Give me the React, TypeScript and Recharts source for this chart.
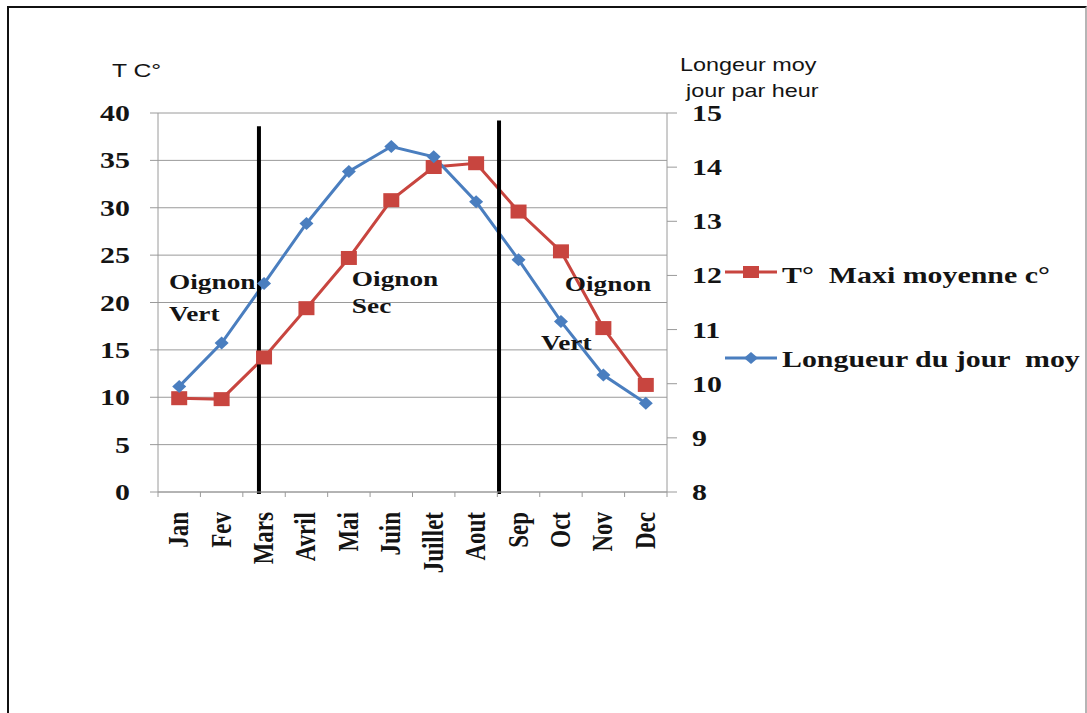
import React from 'react';
import {
  LineChart,
  Line,
  XAxis,
  YAxis,
  CartesianGrid,
  Legend,
  ReferenceLine,
  ReferenceDot,
  Label,
} from 'recharts';

// Monthly climate values
const months = ['Jan', 'Fev', 'Mars', 'Avril', 'Mai', 'Juin', 'Juillet', 'Aout', 'Sep', 'Oct', 'Nov', 'Dec'];
const tempMax = [9.9, 9.8, 14.2, 19.4, 24.7, 30.8, 34.3, 34.7, 29.6, 25.4, 17.3, 11.3];
const dayLength = [9.95, 10.75, 11.85, 12.96, 13.92, 14.38, 14.19, 13.36, 12.29, 11.15, 10.16, 9.64];

const tempTicks = [0, 5, 10, 15, 20, 25, 30, 35, 40];
const dayTicks = [8, 9, 10, 11, 12, 13, 14, 15];

const seriesOrder = ['temp', 'day'];
const seriesNames = ['T°  Maxi moyenne c°', 'Longueur du jour  moy'];

// Crop season boundaries, in month units along the year (0 = start of Jan)
const seasonBounds = [2.38, 8.04];
const seasonTops = [38.6, 39.2];

// Crop notes: month position and temperature level of each line of text
const noteTexts = ['Oignon', 'Vert', 'Oignon', 'Sec', 'Oignon', 'Vert'];
const noteMonthPos = [0.26, 0.26, 4.57, 4.57, 9.59, 9.03];
const noteLevel = [21.4, 18.0, 21.7, 18.9, 21.2, 15.0];

const rows = months.map((m, i) => ({ month: m, pos: i + 0.5, temp: tempMax[i], day: dayLength[i] }));

const RED = '#C8453F';
const BLUE = '#4A7EBF';
const GRID = '#9a9a9a';
const INK = '#141414';
const SERIF = '"Liberation Serif", "Times New Roman", serif';
const SANS = '"Liberation Sans", Arial, sans-serif';
const SX = 1.3;

type StretchProps = {
  x: number;
  y: number;
  anchor?: 'start' | 'middle' | 'end';
  size: number;
  sans?: boolean;
  bold?: boolean;
  rotate?: boolean;
  children: React.ReactNode;
};

function StretchText({ x, y, anchor = 'start', size, sans = false, bold = true, rotate = false, children }: StretchProps) {
  const t = `translate(${x},${y}) scale(${SX},1)` + (rotate ? ' rotate(-90)' : '');
  return (
    <text
      transform={t}
      x={0}
      y={0}
      textAnchor={anchor}
      fontSize={size}
      fontFamily={sans ? SANS : SERIF}
      fontWeight={bold ? 700 : 400}
      fill={INK}
      style={{ whiteSpace: 'pre' }}
    >
      {children}
    </text>
  );
}

const leftTick = (p: any) => (
  <StretchText x={p.x} y={p.y + 8} anchor="end" size={23}>
    {p.payload.value}
  </StretchText>
);

const rightTick = (p: any) => (
  <StretchText x={p.x} y={p.y + 8} anchor="start" size={23}>
    {p.payload.value}
  </StretchText>
);

const monthTick = (p: any) => {
  const count = p.visibleTicksCount || months.length;
  const bw = (p.width || 509) / count;
  const left = p.x - bw / 2;
  return (
    <g>
      <line x1={left} y1={p.y} x2={left} y2={p.y + 5} stroke={GRID} strokeWidth={1} />
      {p.index === count - 1 && (
        <line x1={p.x + bw / 2} y1={p.y} x2={p.x + bw / 2} y2={p.y + 5} stroke={GRID} strokeWidth={1} />
      )}
      <StretchText x={p.x + 9} y={p.y + 20} anchor="end" size={23} rotate>
        {p.payload.value}
      </StretchText>
    </g>
  );
};

const squareDot = (p: any) => {
  if (p.cx == null || p.cy == null) return <g key={`sq-${p.index}`} />;
  return <rect key={`sq-${p.index}`} x={p.cx - 8} y={p.cy - 7} width={16} height={14} fill={RED} />;
};

const diamondDot = (p: any) => {
  if (p.cx == null || p.cy == null) return <g key={`dm-${p.index}`} />;
  const { cx, cy } = p;
  return (
    <polygon
      key={`dm-${p.index}`}
      points={`${cx},${cy - 6.5} ${cx + 7},${cy} ${cx},${cy + 6.5} ${cx - 7},${cy}`}
      fill={BLUE}
    />
  );
};

function LegendBox({ payload }: { payload?: any[] }) {
  const items = payload || [];
  return (
    <svg width={369} height={130} style={{ overflow: 'visible' }}>
      {seriesOrder.map((key, i) => {
        const entry = items.find((e) => e.dataKey === key);
        if (!entry) return null;
        const ly = i === 0 ? 22 : 108;
        const ty = i === 0 ? 33 : 117;
        const c = entry.color;
        return (
          <g key={key}>
            <line x1={7} y1={ly} x2={59} y2={ly} stroke={c} strokeWidth={3} />
            {i === 0 ? (
              <rect x={25} y={ly - 6} width={16} height={12} fill={c} />
            ) : (
              <polygon points={`33,${ly - 6} 40,${ly} 33,${ly + 6} 26,${ly}`} fill={c} />
            )}
            <StretchText x={64} y={ty} size={23}>
              {entry.value}
            </StretchText>
          </g>
        );
      })}
    </svg>
  );
}

export default function App() {
  return (
    <div style={{ position: 'fixed', left: 0, top: 0, width: 1087, height: 713, overflow: 'hidden', background: '#fff' }}>
      <div style={{ position: 'absolute', left: 0, top: 0 }}>
        <LineChart width={1087} height={713} data={rows} margin={{ top: 113, right: 340, bottom: 121, left: 0 }}>
          <CartesianGrid yAxisId="t" vertical={false} stroke={GRID} strokeWidth={1} />
          <XAxis
            dataKey="month"
            scale="band"
            height={100}
            axisLine={{ stroke: GRID, strokeWidth: 1 }}
            tickLine={false}
            tickSize={0}
            tickMargin={0}
            interval={0}
            tick={monthTick}
          />
          <XAxis xAxisId="pos" dataKey="pos" type="number" domain={[0, 12]} allowDataOverflow hide />
          <YAxis
            yAxisId="t"
            width={158}
            domain={[0, 40]}
            ticks={tempTicks}
            interval={0}
            axisLine={{ stroke: GRID, strokeWidth: 1 }}
            tickLine={{ stroke: GRID, strokeWidth: 1 }}
            tickSize={8}
            tickMargin={20}
            tick={leftTick}
          >
            <Label
              content={(p: any) => {
                const vb = p.viewBox || { x: 0, y: 113 };
                return (
                  <StretchText x={vb.x + 112} y={vb.y - 36} size={19} sans bold={false}>
                    T C°
                  </StretchText>
                );
              }}
            />
          </YAxis>
          <YAxis
            yAxisId="day"
            orientation="right"
            width={80}
            domain={[8, 15]}
            ticks={dayTicks}
            interval={0}
            axisLine={{ stroke: GRID, strokeWidth: 1 }}
            tickLine={{ stroke: GRID, strokeWidth: 1 }}
            tickSize={10}
            tickMargin={15}
            tick={rightTick}
          >
            <Label
              content={(p: any) => {
                const vb = p.viewBox || { x: 667, y: 113 };
                return (
                  <g>
                    <StretchText x={vb.x + 13} y={vb.y - 42} size={18} sans bold={false}>
                      Longeur moy
                    </StretchText>
                    <StretchText x={vb.x + 19} y={vb.y - 16} size={18} sans bold={false}>
                      jour par heur
                    </StretchText>
                  </g>
                );
              }}
            />
          </YAxis>
          <Legend
            layout="vertical"
            align="center"
            verticalAlign="middle"
            wrapperStyle={{ left: 718, top: 250, width: 369, height: 130 }}
            content={(p: any) => <LegendBox payload={p.payload} />}
          />
          <Line
            yAxisId="t"
            dataKey="temp"
            name={seriesNames[0]}
            stroke={RED}
            strokeWidth={3}
            dot={squareDot}
            activeDot={false}
            isAnimationActive={false}
          />
          <Line
            yAxisId="day"
            dataKey="day"
            name={seriesNames[1]}
            stroke={BLUE}
            strokeWidth={3}
            dot={diamondDot}
            activeDot={false}
            isAnimationActive={false}
          />
          {noteTexts.map((txt, i) => (
            <ReferenceDot
              key={`note-${i}`}
              xAxisId="pos"
              yAxisId="t"
              x={noteMonthPos[i]}
              y={noteLevel[i]}
              r={0}
              shape={(p: any) => (
                <StretchText x={p.cx} y={p.cy} size={21}>
                  {txt}
                </StretchText>
              )}
            />
          ))}
          {seasonBounds.map((b, i) => (
            <ReferenceLine
              key={`bound-${i}`}
              xAxisId="pos"
              yAxisId="t"
              segment={[
                { x: b, y: -0.2 },
                { x: b, y: seasonTops[i] },
              ]}
              stroke="#000"
              strokeWidth={4}
              ifOverflow="visible"
            />
          ))}
        </LineChart>
      </div>
      <div
        style={{
          position: 'absolute',
          left: 7,
          top: 6,
          width: 1076,
          height: 740,
          borderTop: '2px solid #111',
          borderLeft: '2px solid #111',
          borderRight: '2px solid #b5b5b5',
          pointerEvents: 'none',
        }}
      />
    </div>
  );
}
